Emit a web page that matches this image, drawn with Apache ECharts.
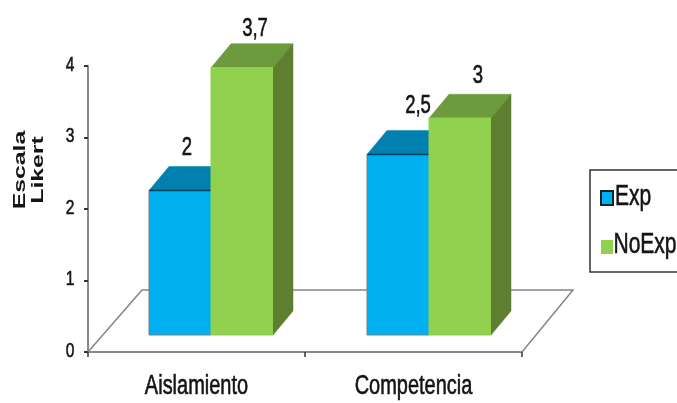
<!DOCTYPE html>
<html>
<head>
<meta charset="utf-8">
<style>html,body{margin:0;padding:0;background:#fff}#c{width:677px;height:403px}</style>
<script src="https://cdn.jsdelivr.net/npm/echarts@6/dist/echarts.min.js"></script>
</head>
<body>
<div id="c"></div>
<script>
const categories = ['Aislamiento', 'Competencia'];
const seriesNames = ['Exp', 'NoExp'];
const expValues = [2, 2.5];
const noExpValues = [3.7, 3];
const valueTicks = [0, 1, 2, 3, 4];

const FONT = '"Liberation Sans", sans-serif';
const INK = '#141414';
const SQUEEZE = 0.74;
const BAR_W = 62;
const DEPTH_X = 20;
const DEPTH_Y = 24;
// label shift per series and category, so text clears neighbouring bars
const labelShift = {
  Exp: [[-3, -18], [10, -24]],
  NoExp: [[3, -15], [8, -18]]
};

// Narrow, tall lettering: a regular face compressed along its baseline, slightly emboldened.
const narrowText = (text, x, y, size, squeeze = SQUEEZE) => ({
  type: 'text', x, y, scaleX: squeeze,
  style: {
    text, font: size + 'px ' + FONT, fill: INK,
    stroke: INK, lineWidth: 0.6,
    align: 'center', verticalAlign: 'middle'
  }
});

const poly = (points, fill) => ({
  type: 'polygon',
  shape: { points },
  style: { fill, stroke: fill, lineWidth: 0.5 }
});

// One cuboid per data point: front face sits on the value axis, top and side are sheared back.
function barRenderer(name, side, front, top, flank, topEdge, baseEdge) {
  return function (params, api) {
    const i = api.value(0), v = api.value(1);
    const t = api.coord([i, v]), b = api.coord([i, 0]);
    const x0 = side < 0 ? t[0] - BAR_W : t[0];
    const x1 = x0 + BAR_W;
    const s = labelShift[name][params.dataIndex];
    return {
      type: 'group',
      children: [
        poly([[x0, t[1]], [x1, t[1]], [x1 + DEPTH_X, t[1] - DEPTH_Y], [x0 + DEPTH_X, t[1] - DEPTH_Y]], top),
        poly([[x1, t[1]], [x1 + DEPTH_X, t[1] - DEPTH_Y], [x1 + DEPTH_X, b[1] - DEPTH_Y], [x1, b[1]]], flank),
        { type: 'rect', shape: { x: x0, y: t[1], width: BAR_W, height: b[1] - t[1] }, style: { fill: front } },
        { type: 'polyline', shape: { points: [[x0, t[1]], [x1, t[1]]] }, style: { stroke: topEdge, lineWidth: 1.5, fill: null } },
        { type: 'polyline', shape: { points: [[x0, t[1]], [x0, b[1]], [x1, b[1]]] }, style: { stroke: baseEdge, lineWidth: 1, fill: null } },
        narrowText(String(v).replace('.', ','), (x0 + x1) / 2 + DEPTH_X / 2 + s[0], t[1] - DEPTH_Y + s[1], 25)
      ]
    };
  };
}

// Floor plane under the bars, derived from the visible axes.
function floorRenderer(params, api) {
  if (params.dataIndex !== 0) return null;
  const a = api.coord([0, 0]), c = api.coord([1, 0]);
  const band = c[0] - a[0];
  const xl = a[0] - band / 2, xr = c[0] + band / 2, y = a[1];
  return {
    type: 'polyline',
    shape: { points: [[xl, y], [xl + 54, y - 62], [xr + 51, y - 62], [xr, y]] },
    style: { stroke: '#858585', lineWidth: 1.5, fill: null }
  };
}

function categoryLabelRenderer(params, api) {
  const p = api.coord([api.value(0), 0]);
  return narrowText(categories[params.dataIndex], p[0], p[1] + 35, 27);
}

function tickLabelRenderer(params, api) {
  const p = api.coord([0, api.value(1)]);
  const q = api.coord([1, api.value(1)]);
  return narrowText(String(api.value(1)), p[0] - (q[0] - p[0]) / 2 - 18, p[1] - 1, 21);
}

const chart = echarts.init(document.getElementById('c'), null, { renderer: 'canvas' });
chart.setOption({
  animation: false,
  backgroundColor: '#fff',
  grid: [
    { left: 88, width: 434, top: 66, height: 286 },
    { left: 102, width: 436, top: 46, height: 289 }
  ],
  xAxis: [
    {
      type: 'category', gridIndex: 0, data: categories, offset: 1,
      axisLine: { lineStyle: { color: '#8a8a8a', width: 2 } },
      axisTick: { show: true, length: 5, lineStyle: { color: '#333', width: 1.5 } },
      axisLabel: { show: false }
    },
    { type: 'category', gridIndex: 1, data: categories, show: false }
  ],
  yAxis: [
    {
      type: 'value', gridIndex: 0, min: 0, max: 4, interval: 1,
      splitLine: { show: false },
      axisLine: { show: true, lineStyle: { color: '#8a8a8a', width: 2 } },
      axisTick: { show: true, length: 4, lineStyle: { color: '#333', width: 2 } },
      axisLabel: { show: false }
    },
    { type: 'value', gridIndex: 1, min: 0, max: 4, show: false, splitLine: { show: false } }
  ],
  legend: {
    left: 590, top: 170,
    orient: 'vertical',
    padding: [20, 100, 18, 10],
    itemGap: 34,
    itemWidth: 12,
    itemHeight: 14,
    icon: 'rect',
    borderColor: '#333',
    borderWidth: 1.5,
    formatter: () => '',
    data: [
      { name: seriesNames[0], itemStyle: { color: '#00b0f0', borderColor: '#10222c', borderWidth: 2 } },
      { name: seriesNames[1], itemStyle: { color: '#92d050', borderWidth: 0 } }
    ]
  },
  graphic: [
    {
      type: 'text',
      x: 30, y: 170,
      rotation: Math.PI / 2,
      scaleX: 1.55,
      style: {
        text: 'Escala\nLikert',
        font: 'bold 16px ' + FONT,
        lineHeight: 18,
        fill: INK,
        align: 'center',
        verticalAlign: 'middle'
      }
    },
    Object.assign(narrowText(seriesNames[0], 633, 197, 30, 0.7), { z: 100 }),
    Object.assign(narrowText(seriesNames[1], 645, 245, 30, 0.7), { z: 100 })
  ],
  series: [
    {
      type: 'custom', xAxisIndex: 0, yAxisIndex: 0, silent: true, z: 1,
      renderItem: floorRenderer,
      data: categories.map((c, i) => [i, 0])
    },
    {
      type: 'custom', xAxisIndex: 0, yAxisIndex: 0, silent: true, z: 1,
      renderItem: categoryLabelRenderer,
      data: categories.map((c, i) => [i, 0])
    },
    {
      type: 'custom', xAxisIndex: 0, yAxisIndex: 0, silent: true, z: 1, clip: false,
      renderItem: tickLabelRenderer,
      data: valueTicks.map(v => [0, v])
    },
    {
      name: seriesNames[0], type: 'custom', xAxisIndex: 1, yAxisIndex: 1, z: 2,
      itemStyle: { color: '#00b0f0' },
      renderItem: barRenderer(seriesNames[0], -1, '#00b0f0', '#0080ae', '#005f80', '#00405c', '#7d7d7d'),
      encode: { x: 0, y: 1 },
      data: expValues.map((v, i) => [i, v])
    },
    {
      name: seriesNames[1], type: 'custom', xAxisIndex: 1, yAxisIndex: 1, z: 3,
      itemStyle: { color: '#92d050' },
      renderItem: barRenderer(seriesNames[1], 1, '#92d050', '#6d9a3c', '#5d7f2f', '#8fd050', '#8fd050'),
      encode: { x: 0, y: 1 },
      data: noExpValues.map((v, i) => [i, v])
    }
  ]
});
</script>
</body>
</html>
